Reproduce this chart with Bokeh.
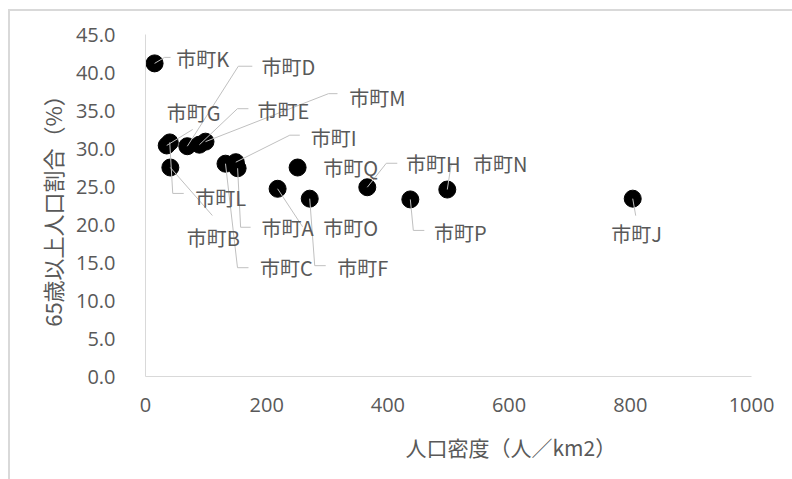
from bokeh.plotting import figure
from bokeh.models import ColumnDataSource, FixedTicker, PrintfTickFormatter, Range1d, Title
from bokeh.core.properties import value
from bokeh.embed import file_html
from bokeh.resources import INLINE

# ---------------- data ----------------
towns = ["市町A", "市町B", "市町C", "市町D", "市町E", "市町F", "市町G", "市町H", "市町I",
         "市町J", "市町K", "市町L", "市町M", "市町N", "市町O", "市町P", "市町Q"]
density = [152, 41, 132, 69, 89, 271, 35, 366, 149, 804, 15, 40, 99, 498, 218, 437, 251]
elderly = [27.4, 27.5, 28.0, 30.3, 30.5, 23.4, 30.4, 24.9, 28.2, 23.4, 41.2, 30.8, 30.9,
           24.6, 24.7, 23.3, 27.5]
x_ticks = [0, 200, 400, 600, 800, 1000]
y_ticks = [0, 5, 10, 15, 20, 25, 30, 35, 40, 45]
x_title = "人口密度（人／km2）"
y_title = "65歳以上人口割合（%）"

# ---------------- styling: label placement in screen pixels (dx right, dy down) ----------------
label_offsets = {
    "市町A": (50, 59), "市町B": (43, 70), "市町C": (61, 104), "市町D": (101, -80),
    "市町E": (84, -34), "市町F": (53, 69), "市町G": (27, -33), "市町H": (66, -24),
    "市町I": (98, -25), "市町J": (4, 35), "市町K": (48, -5), "市町L": (51, 55),
    "市町M": (172, -44), "市町N": (53, -26), "市町O": (73, 39), "市町P": (50, 33),
    "市町Q": (53, 0),
}
leader_paths = {
    "市町A": [(0, 0), (3, 59), (13, 59)],
    "市町B": [(0, 0), (42, 48)],
    "市町C": [(0, 0), (12, 104), (23, 104)],
    "市町D": [(0, 0), (51, -80), (65, -80)],
    "市町E": [(0, 0), (38, -36), (49, -36)],
    "市町F": [(0, 0), (5, 67), (16, 67)],
    "市町G": [(0, 0), (26, -16)],
    "市町H": [(0, 0), (19, -24), (30, -24)],
    "市町I": [(0, 0), (54, -27), (64, -27)],
    "市町J": [(0, 0), (3, 17)],
    "市町K": [(0, 0), (10, -6), (16, -6)],
    "市町L": [(0, 0), (3, 51), (14, 51)],
    "市町M": [(0, 0), (123, -48), (132, -48)],
    "市町N": [(0, 0), (4, -26)],
    "市町O": [(0, 0), (25, 38)],
    "市町P": [(0, 0), (3, 31), (14, 31)],
}

FW, FH = 606, 342
X0, X1, Y0, Y1 = 0, 1000, 0, 45
sx = FW / (X1 - X0)
sy = FH / (Y1 - Y0)

TEXT_COLOR = "#595959"
AXIS_COLOR = "#d9d9d9"
JP_FONT = "Noto Sans CJK JP"
NUM_FONT = "Open Sans"

p = figure(frame_width=FW, frame_height=FH,
           x_range=Range1d(X0, X1), y_range=Range1d(Y0, Y1),
           output_backend="svg", toolbar_location=None,
           min_border_left=135, min_border_right=41,
           min_border_top=23, min_border_bottom=103)
p.outline_line_color = None
p.grid.visible = False
p.background_fill_color = "white"
p.border_fill_color = "white"
p.styles = {"margin-left": "8px", "margin-top": "9px",
            "border-left": "2px solid #d9d9d9", "border-top": "2px solid #d9d9d9"}

for ax in (p.xaxis[0], p.yaxis[0]):
    ax.axis_line_color = AXIS_COLOR
    ax.axis_line_width = 1
    ax.major_tick_line_color = None
    ax.minor_tick_line_color = None
    ax.major_label_text_color = TEXT_COLOR
    ax.major_label_text_font = NUM_FONT
    ax.major_label_text_font_size = "20px"

p.xaxis.ticker = FixedTicker(ticks=x_ticks)
p.yaxis.ticker = FixedTicker(ticks=y_ticks)
p.yaxis.formatter = PrintfTickFormatter(format="%.1f")
p.xaxis.major_label_standoff = 15
p.yaxis.major_label_standoff = 24

p.yaxis.axis_label = y_title
p.yaxis.axis_label_text_font = JP_FONT
p.yaxis.axis_label_text_font_size = "22px"
p.yaxis.axis_label_text_font_style = "normal"
p.yaxis.axis_label_text_color = TEXT_COLOR
p.yaxis.axis_label_standoff = 5

# points
src = ColumnDataSource(dict(x=density, y=elderly, name=towns))
p.scatter(x="x", y="y", source=src, size=17, fill_color="black", line_color="black")

# leader lines
xs, ys = [], []
for t, xv, yv in zip(towns, density, elderly):
    path = leader_paths.get(t)
    if not path:
        continue
    xs.append([xv + dx / sx for dx, dy in path])
    ys.append([yv - dy / sy for dx, dy in path])
p.multi_line(xs, ys, line_color="#c0c0c0", line_width=1)

# data labels
p.text(x=density, y=elderly, text=towns,
       x_offset=[label_offsets[t][0] for t in towns],
       y_offset=[label_offsets[t][1] for t in towns],
       text_align="center", text_baseline="middle",
       text_font=value(JP_FONT), text_font_size="20px", text_color=TEXT_COLOR)

# x axis title (placed right of centre as in the original)
p.add_layout(Title(text=x_title, align="left", offset=253, standoff=16, padding=7,
                   text_font=JP_FONT, text_font_size="21px", text_font_style="normal",
                   text_color=TEXT_COLOR), "below")

open("out.html", "w").write(file_html(p, INLINE))
